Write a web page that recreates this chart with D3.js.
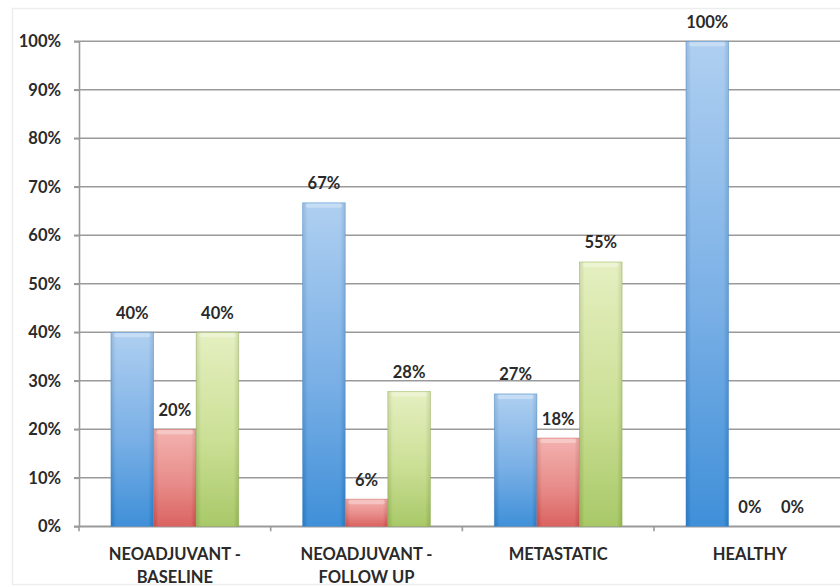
<!DOCTYPE html>
<html><head><meta charset="utf-8">
<script src="https://cdn.jsdelivr.net/npm/d3@7"></script>
<style>html,body{margin:0;padding:0;background:#fff;}svg{display:block;}</style>
</head><body>
<svg id="c" width="840" height="587"></svg>
<script>
const categories = [["NEOADJUVANT -", "BASELINE"], ["NEOADJUVANT -", "FOLLOW UP"], ["METASTATIC"], ["HEALTHY"]];
const seriesNames = ["Series A", "Series B", "Series C"];
const seriesA = [0.40, 0.667, 0.273, 1.00];
const seriesB = [0.20, 0.056, 0.182, 0.00];
const seriesC = [0.40, 0.278, 0.545, 0.00];
const yTicks = [0, 0.1, 0.2, 0.3, 0.4, 0.5, 0.6, 0.7, 0.8, 0.9, 1.0];
const seriesColors = [
  {top: "#a6caef", mid: "#6ba7e3", bot: "#2a83d4", edge: "#4c8fcf"},
  {top: "#f2aaa7", mid: "#e5807d", bot: "#d6524f", edge: "#c96a67"},
  {top: "#e2eeba", mid: "#c6dc8a", bot: "#9fc358", edge: "#94b35a"}
];

const svg = d3.select("#c");
const font = "Lato, 'Open Sans', sans-serif";
const catIds = categories.map((c, i) => i);
const data = catIds.map(i => [seriesA[i], seriesB[i], seriesC[i]]);

// faint chart frame
svg.append("rect").attr("x", 12.5).attr("y", 8.5).attr("width", 840).attr("height", 576)
  .attr("fill", "#fff").attr("stroke", "#eceeee").attr("stroke-width", 1.5);

const y = d3.scaleLinear().domain([0, 1]).range([526.3, 41.3]);
const x = d3.scaleBand().domain(catIds).range([79, 845.7]).paddingInner(0).paddingOuter(0);
const xs = d3.scaleBand().domain(d3.range(3)).range([0, x.bandwidth()]).paddingInner(0).paddingOuter(0.75);

// gradients
const defs = svg.append("defs");
seriesColors.forEach((c, i) => {
  const g = defs.append("linearGradient").attr("id", "g" + i).attr("x1", 0).attr("y1", 0).attr("x2", 0).attr("y2", 1);
  g.append("stop").attr("offset", "0%").attr("stop-color", c.top);
  g.append("stop").attr("offset", "55%").attr("stop-color", c.mid);
  g.append("stop").attr("offset", "100%").attr("stop-color", c.bot);
});
const hg = defs.append("linearGradient").attr("id", "hl").attr("x1", 0).attr("y1", 0).attr("x2", 1).attr("y2", 0);
hg.append("stop").attr("offset", "0%").attr("stop-color", "#000").attr("stop-opacity", 0.08);
hg.append("stop").attr("offset", "12%").attr("stop-color", "#fff").attr("stop-opacity", 0.1);
hg.append("stop").attr("offset", "88%").attr("stop-color", "#fff").attr("stop-opacity", 0.1);
hg.append("stop").attr("offset", "100%").attr("stop-color", "#000").attr("stop-opacity", 0.08);

// gridlines
svg.append("g").selectAll("line").data(yTicks).join("line")
  .attr("x1", 74).attr("x2", 845).attr("y1", d => y(d)).attr("y2", d => y(d))
  .attr("stroke", "#9a9a9a").attr("stroke-width", 1.6);

// y axis
const yAxis = d3.axisLeft(y).tickValues(yTicks).tickFormat(d3.format(".0%")).tickSize(5).tickPadding(13);
const ya = svg.append("g").attr("transform", "translate(79,0)").call(yAxis);
ya.select(".domain").attr("stroke", "#9a9a9a").attr("stroke-width", 1.6);
ya.selectAll(".tick line").attr("stroke", "#9a9a9a").attr("stroke-width", 1.6);
ya.selectAll(".tick text").attr("font-family", font).attr("font-size", 16.5).attr("font-weight", 700).attr("fill", "#2a2a2a");

// x axis ticks at band boundaries
const xa = d3.axisBottom(x).tickSize(0).tickFormat("");
const xag = svg.append("g").attr("transform", `translate(0,${y(0)})`).call(xa);
xag.select(".domain").attr("stroke", "#9a9a9a").attr("stroke-width", 1.6);
svg.append("g").selectAll("line").data(catIds.concat([catIds.length])).join("line")
  .attr("x1", d => d < catIds.length ? x(d) : x(d - 1) + x.bandwidth())
  .attr("x2", d => d < catIds.length ? x(d) : x(d - 1) + x.bandwidth())
  .attr("y1", y(0)).attr("y2", y(0) + 5)
  .attr("stroke", "#9a9a9a").attr("stroke-width", 1.6);

// bars
const groups = svg.append("g").selectAll("g").data(data).join("g")
  .attr("transform", (d, i) => `translate(${x(i)},0)`);
const bars = groups.selectAll("g.bar").data(d => d.map((v, s) => ({v, s}))).join("g").attr("class", "bar");
bars.filter(d => d.v > 0).append("rect")
  .attr("x", d => xs(d.s)).attr("width", xs.bandwidth())
  .attr("y", d => y(d.v)).attr("height", d => y(0) - y(d.v))
  .attr("fill", d => `url(#g${d.s})`).attr("stroke", d => seriesColors[d.s].edge).attr("stroke-width", 0.8).attr("stroke-opacity", 0.6);
bars.filter(d => d.v > 0).append("rect")
  .attr("x", d => xs(d.s)).attr("width", xs.bandwidth())
  .attr("y", d => y(d.v)).attr("height", d => y(0) - y(d.v))
  .attr("fill", "url(#hl)");
// top bevel highlight
bars.filter(d => d.v > 0).append("rect")
  .attr("x", d => xs(d.s) + 3).attr("width", xs.bandwidth() - 6)
  .attr("y", d => y(d.v) + 1).attr("height", 4).attr("rx", 2)
  .attr("fill", "#fff").attr("opacity", 0.3);

// value labels
bars.append("text")
  .attr("x", d => xs(d.s) + xs.bandwidth() / 2)
  .attr("y", d => y(d.v) - 13.5)
  .attr("text-anchor", "middle")
  .attr("font-family", font).attr("font-size", 16.5).attr("font-weight", 700).attr("fill", "#2a2a2a")
  .text(d => d3.format(".0%")(d.v));

// category labels
const cl = svg.append("g").selectAll("text").data(categories).join("text")
  .attr("x", (d, i) => x(i) + x.bandwidth() / 2)
  .attr("y", 560)
  .attr("text-anchor", "middle")
  .attr("font-family", font).attr("font-size", 16.5).attr("font-weight", 700).attr("fill", "#2a2a2a");
cl.selectAll("tspan").data(d => d).join("tspan")
  .attr("x", function() { return this.parentNode.getAttribute("x"); })
  .attr("dy", (d, i) => i === 0 ? 0 : 23)
  .text(d => d);
</script>
</body></html>
